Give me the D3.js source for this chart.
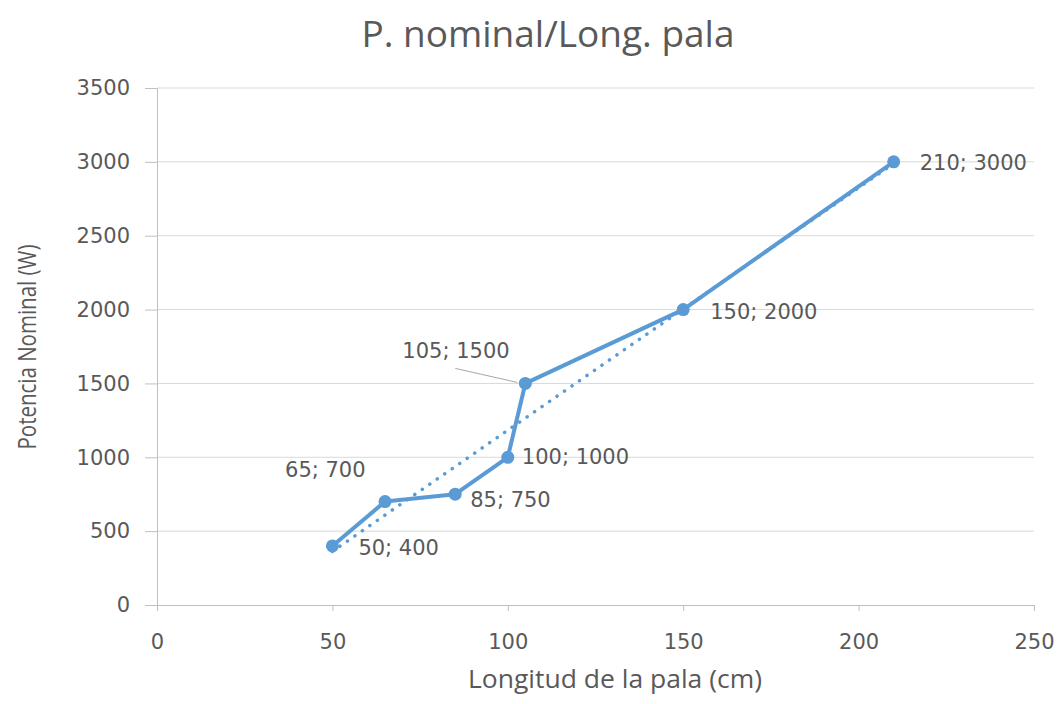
<!DOCTYPE html>
<html>
<head>
<meta charset="utf-8">
<script src="https://cdn.jsdelivr.net/npm/d3@7"></script>
<style>
  body { margin: 0; background: #fff; }
  text { fill: #595959; }
  .axis path, .axis line { stroke: #bfbfbf; }
  .grid line { stroke: #d9d9d9; }
</style>
</head>
<body>
<script>
// data
var longitud = [50, 65, 85, 100, 105, 150, 210];
var potencia = [400, 700, 750, 1000, 1500, 2000, 3000];
// label offsets relative to the point (dx, dy)
var labelPos = [[26, 2], [-100, -32], [15, 5], [14, -1], [-123, -33], [27, 2], [26, 1]];
var xTicks = [0, 50, 100, 150, 200, 250];
var yTicks = [0, 500, 1000, 1500, 2000, 2500, 3000, 3500];

var width = 1057, height = 704;
var margin = {top: 88, right: 23, bottom: 99, left: 157};
var w = width - margin.left - margin.right,
    h = height - margin.top - margin.bottom;

var data = longitud.map(function(d, i) { return {x: d, y: potencia[i], lp: labelPos[i]}; });

var xScale = d3.scaleLinear().domain([0, 250]).range([0, w]);
var yScale = d3.scaleLinear().domain([0, 3500]).range([h, 0]);

var svg = d3.select("body").append("svg")
    .attr("width", width)
    .attr("height", height);

// title
svg.append("text")
    .attr("x", 548).attr("y", 47)
    .attr("text-anchor", "middle")
    .attr("font-family", "'Open Sans', sans-serif")
    .attr("font-size", "36px")
    .attr("textLength", 373)
    .attr("lengthAdjust", "spacingAndGlyphs")
    .text("P. nominal/Long. pala");

var g = svg.append("g")
    .attr("transform", "translate(" + margin.left + "," + margin.top + ")");

// horizontal grid
g.append("g")
    .attr("class", "grid")
    .selectAll("line")
    .data(yTicks.slice(1))
    .enter().append("line")
    .attr("x1", 0).attr("x2", w)
    .attr("y1", function(d) { return yScale(d); })
    .attr("y2", function(d) { return yScale(d); });

// axis-x
var xAxis = g.append("g")
    .attr("class", "axis")
    .attr("transform", "translate(0," + h + ")")
    .call(d3.axisBottom(xScale).tickValues(xTicks).tickFormat(d3.format("d")).tickSize(6).tickSizeOuter(0));
xAxis.selectAll("text").attr("y", 29);

// axis-y
var yAxis = g.append("g")
    .attr("class", "axis")
    .call(d3.axisLeft(yScale).tickValues(yTicks).tickFormat(d3.format("d")).tickSize(12).tickSizeOuter(0));
yAxis.selectAll("text").attr("x", -27);

g.selectAll(".axis").attr("font-family", "'DejaVu Sans', sans-serif").attr("font-size", "21px");
g.selectAll(".axis text").attr("fill", "#595959");

// axis titles
svg.append("text")
    .attr("x", 615).attr("y", 688)
    .attr("text-anchor", "middle")
    .attr("font-family", "'Open Sans', sans-serif")
    .attr("font-size", "25px")
    .attr("textLength", 294)
    .attr("lengthAdjust", "spacingAndGlyphs")
    .text("Longitud de la pala (cm)");

svg.append("text")
    .attr("transform", "translate(36,347) rotate(-90)")
    .attr("text-anchor", "middle")
    .attr("font-family", "'Open Sans', sans-serif")
    .attr("font-size", "25px")
    .attr("textLength", 205)
    .attr("lengthAdjust", "spacingAndGlyphs")
    .text("Potencia Nominal (W)");

// linear trendline (least squares from the data)
var mx = d3.mean(longitud), my = d3.mean(potencia);
var sxy = d3.sum(data, function(d) { return (d.x - mx) * (d.y - my); });
var sxx = d3.sum(data, function(d) { return (d.x - mx) * (d.x - mx); });
var slope = sxy / sxx, intercept = my - slope * mx;
var xExt = d3.extent(longitud);

g.append("line")
    .attr("x1", xScale(xExt[0])).attr("y1", yScale(intercept + slope * xExt[0]))
    .attr("x2", xScale(xExt[1])).attr("y2", yScale(intercept + slope * xExt[1]))
    .attr("stroke", "#5b9bd5")
    .attr("stroke-width", 3.5)
    .attr("stroke-linecap", "round")
    .attr("stroke-dasharray", "0.1,9");

// series line
var line = d3.line()
    .x(function(d) { return xScale(d.x); })
    .y(function(d) { return yScale(d.y); });

g.append("path")
    .attr("d", line(data))
    .attr("fill", "none")
    .attr("stroke", "#5b9bd5")
    .attr("stroke-width", 4)
    .attr("stroke-linejoin", "round");

g.selectAll("circle")
    .data(data)
    .enter().append("circle")
    .attr("cx", function(d) { return xScale(d.x); })
    .attr("cy", function(d) { return yScale(d.y); })
    .attr("r", 6.5)
    .attr("fill", "#5b9bd5");

// leader line for 105; 1500
var lead = data[4];
g.append("line")
    .attr("x1", xScale(lead.x) - 70).attr("y1", yScale(lead.y) - 15)
    .attr("x2", xScale(lead.x) - 8).attr("y2", yScale(lead.y) - 1)
    .attr("stroke", "#a6a6a6")
    .attr("stroke-width", 1);

// data labels
g.selectAll(".lbl")
    .data(data)
    .enter().append("text")
    .attr("class", "lbl")
    .attr("x", function(d) { return xScale(d.x) + d.lp[0]; })
    .attr("y", function(d) { return yScale(d.y) + d.lp[1]; })
    .attr("dy", "0.36em")
    .attr("font-family", "'DejaVu Sans', sans-serif")
    .attr("font-size", "21px")
    .text(function(d) { return d.x + "; " + d.y; });
</script>
</body>
</html>
